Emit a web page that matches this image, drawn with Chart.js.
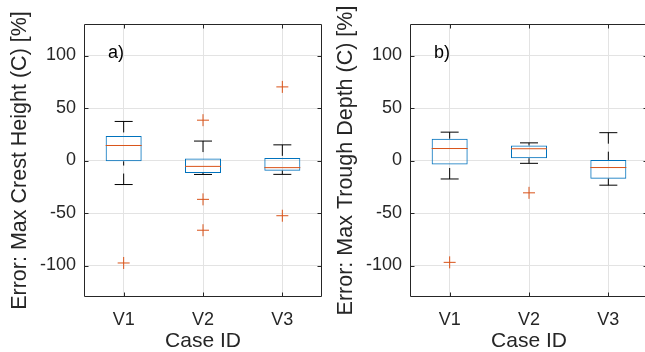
<!DOCTYPE html>
<html>
<head>
<meta charset="utf-8">
<script src="https://cdn.jsdelivr.net/npm/chart.js@4/dist/chart.umd.min.js"></script>
<style>
  html, body { margin: 0; padding: 0; background: #fff; overflow: hidden; width: 645px; height: 352px; }
  canvas { position: absolute; top: 0; }
  #c1 { left: 0; }
  #c2 { left: 326px; }
</style>
</head>
<body>
<canvas id="c1" width="330" height="352"></canvas>
<canvas id="c2" width="324" height="352"></canvas>
<script>
// ---------- data ----------
const categories = ['V1', 'V2', 'V3'];
const yTickValues = [-100, -50, 0, 50, 100];

// a) Max crest height error
const crestQ1 = [-0.8, -11.8, -9.7];
const crestQ3 = [23.4, 2.0, 2.5];
const crestMedian = [14.3, -5.6, -6.8];
const crestWhiskerLow = [-22.9, -13.3, -13.2];
const crestWhiskerHigh = [37.2, 18.5, 14.9];
const crestOutliersV1 = [-97.6];
const crestOutliersV2 = [38.4, -37.0, -66.4];
const crestOutliersV3 = [70.1, -52.6];

// b) Max trough depth error
const troughQ1 = [-3.8, 2.2, -17.3];
const troughQ3 = [20.8, 14.3, 0.5];
const troughMedian = [11.4, 11.2, -6.7];
const troughWhiskerLow = [-17.6, -2.7, -23.5];
const troughWhiskerHigh = [27.0, 16.8, 26.5];
const troughOutliersV1 = [-97.0];
const troughOutliersV2 = [-30.8];
const troughOutliersV3 = [];

// ---------- styling ----------
const FONT = "'Liberation Sans', Arial, Helvetica, sans-serif";
const AXIS_COLOR = '#262626';
const GRID_COLOR = '#e3e3e3';
const BLUE = '#0072BD';
const ORANGE = '#D95319';

function whiskerPoints(from, to) {
  const pts = [];
  categories.forEach((c, i) => {
    pts.push({x: c, y: to[i]});
    pts.push({x: c, y: from[i]});
    pts.push({x: c, y: null});
  });
  return pts;
}
function catPoints(vals) {
  return categories.map((c, i) => ({x: c, y: vals[i]}));
}
function outlierPoints(lists) {
  const pts = [];
  lists.forEach((arr, i) => arr.forEach(v => pts.push({x: categories[i], y: v})));
  return pts;
}

const framePlugin = {
  id: 'frame',
  afterDraw(chart) {
    const {ctx, chartArea: a, scales: {x, y}} = chart;
    const L = Math.round(a.left) + 0.5, R = Math.round(a.right) - 0.5;
    const T = Math.round(a.top) + 0.5, B = Math.round(a.bottom) - 0.5;
    ctx.save();
    ctx.strokeStyle = AXIS_COLOR;
    ctx.lineWidth = 1;
    ctx.beginPath();
    ctx.rect(L, T, R - L, B - T);
    yTickValues.forEach(v => {
      const p = Math.round(y.getPixelForValue(v)) + 0.5;
      ctx.moveTo(L, p); ctx.lineTo(L + 4, p);
      ctx.moveTo(R, p); ctx.lineTo(R - 4, p);
    });
    categories.forEach((c, i) => {
      const p = Math.round(x.getPixelForValue(i)) + 0.5;
      ctx.moveTo(p, B); ctx.lineTo(p, B - 4);
      ctx.moveTo(p, T); ctx.lineTo(p, T + 4);
    });
    ctx.stroke();
    const tag = chart.options.plugins.frame.tag;
    ctx.fillStyle = '#000';
    ctx.font = '18px ' + FONT;
    ctx.textAlign = 'left';
    ctx.textBaseline = 'middle';
    ctx.fillText(tag, a.left + 24, a.top + 29);
    ctx.restore();
  }
};

function makeChart(id, title, tag, padRight, q1, q3, med, wLo, wHi, outs) {
  return new Chart(document.getElementById(id), {
    type: 'bar',
    data: {
      labels: categories,
      datasets: [
        { type: 'line', data: catPoints(med), showLine: false, pointStyle: 'line',
          pointRadius: 18, pointBorderColor: ORANGE, pointBorderWidth: 1, borderColor: ORANGE },
        { type: 'line', data: outlierPoints(outs), showLine: false, pointStyle: 'cross',
          pointRadius: 6, pointBorderColor: ORANGE, pointBorderWidth: 1, borderColor: ORANGE },
        { type: 'line', data: catPoints(wHi), showLine: false, pointStyle: 'line',
          pointRadius: 9, pointBorderColor: '#000', pointBorderWidth: 1 },
        { type: 'line', data: catPoints(wLo), showLine: false, pointStyle: 'line',
          pointRadius: 9, pointBorderColor: '#000', pointBorderWidth: 1 },
        { type: 'line', data: whiskerPoints(q3, wHi), borderColor: '#000', borderWidth: 1,
          borderDash: [11, 8], pointRadius: 0, spanGaps: false },
        { type: 'line', data: whiskerPoints(q1, wLo), borderColor: '#000', borderWidth: 1,
          borderDash: [11, 8], pointRadius: 0, spanGaps: false },
        { type: 'bar', data: categories.map((c, i) => [q1[i], q3[i]]),
          backgroundColor: 'rgba(0,0,0,0)', borderColor: BLUE, borderWidth: 1,
          borderSkipped: false, categoryPercentage: 1, barPercentage: 0.454 }
      ]
    },
    options: {
      responsive: false,
      animation: false,
      events: [],
      layout: { autoPadding: false, padding: { top: 24, right: padRight, left: 0, bottom: 0 } },
      plugins: { legend: { display: false }, tooltip: { enabled: false }, frame: { tag } },
      scales: {
        x: {
          offset: true,
          grid: { color: GRID_COLOR, offset: false, drawTicks: false },
          border: { display: false },
          ticks: { color: AXIS_COLOR, font: { family: FONT, size: 18 }, padding: 12 },
          title: { display: true, text: 'Case ID', color: AXIS_COLOR,
                   font: { family: FONT, size: 21, lineHeight: 1.0 }, padding: { top: 0, bottom: 0 } },
          afterFit(s) { s.height = 55; }
        },
        y: {
          min: -130, max: 130,
          grid: { color: GRID_COLOR, drawTicks: false },
          border: { display: false },
          afterBuildTicks(s) { s.ticks = yTickValues.map(v => ({ value: v })); },
          ticks: { color: AXIS_COLOR, font: { family: FONT, size: 18 }, padding: 8 },
          title: { display: true, text: title, color: AXIS_COLOR,
                   font: { family: FONT, size: 21.5, lineHeight: 1.0 }, padding: { top: 9, bottom: 0 } },
          afterFit(s) { s.width = 84; }
        }
      }
    },
    plugins: [framePlugin]
  });
}

makeChart('c1', 'Error: Max Crest Height (C) [%]', 'a)', 8,
  crestQ1, crestQ3, crestMedian, crestWhiskerLow, crestWhiskerHigh,
  [crestOutliersV1, crestOutliersV2, crestOutliersV3]);
makeChart('c2', 'Error: Max Trough Depth (C) [%]', 'b)', 2,
  troughQ1, troughQ3, troughMedian, troughWhiskerLow, troughWhiskerHigh,
  [troughOutliersV1, troughOutliersV2, troughOutliersV3]);
</script>
</body>
</html>
